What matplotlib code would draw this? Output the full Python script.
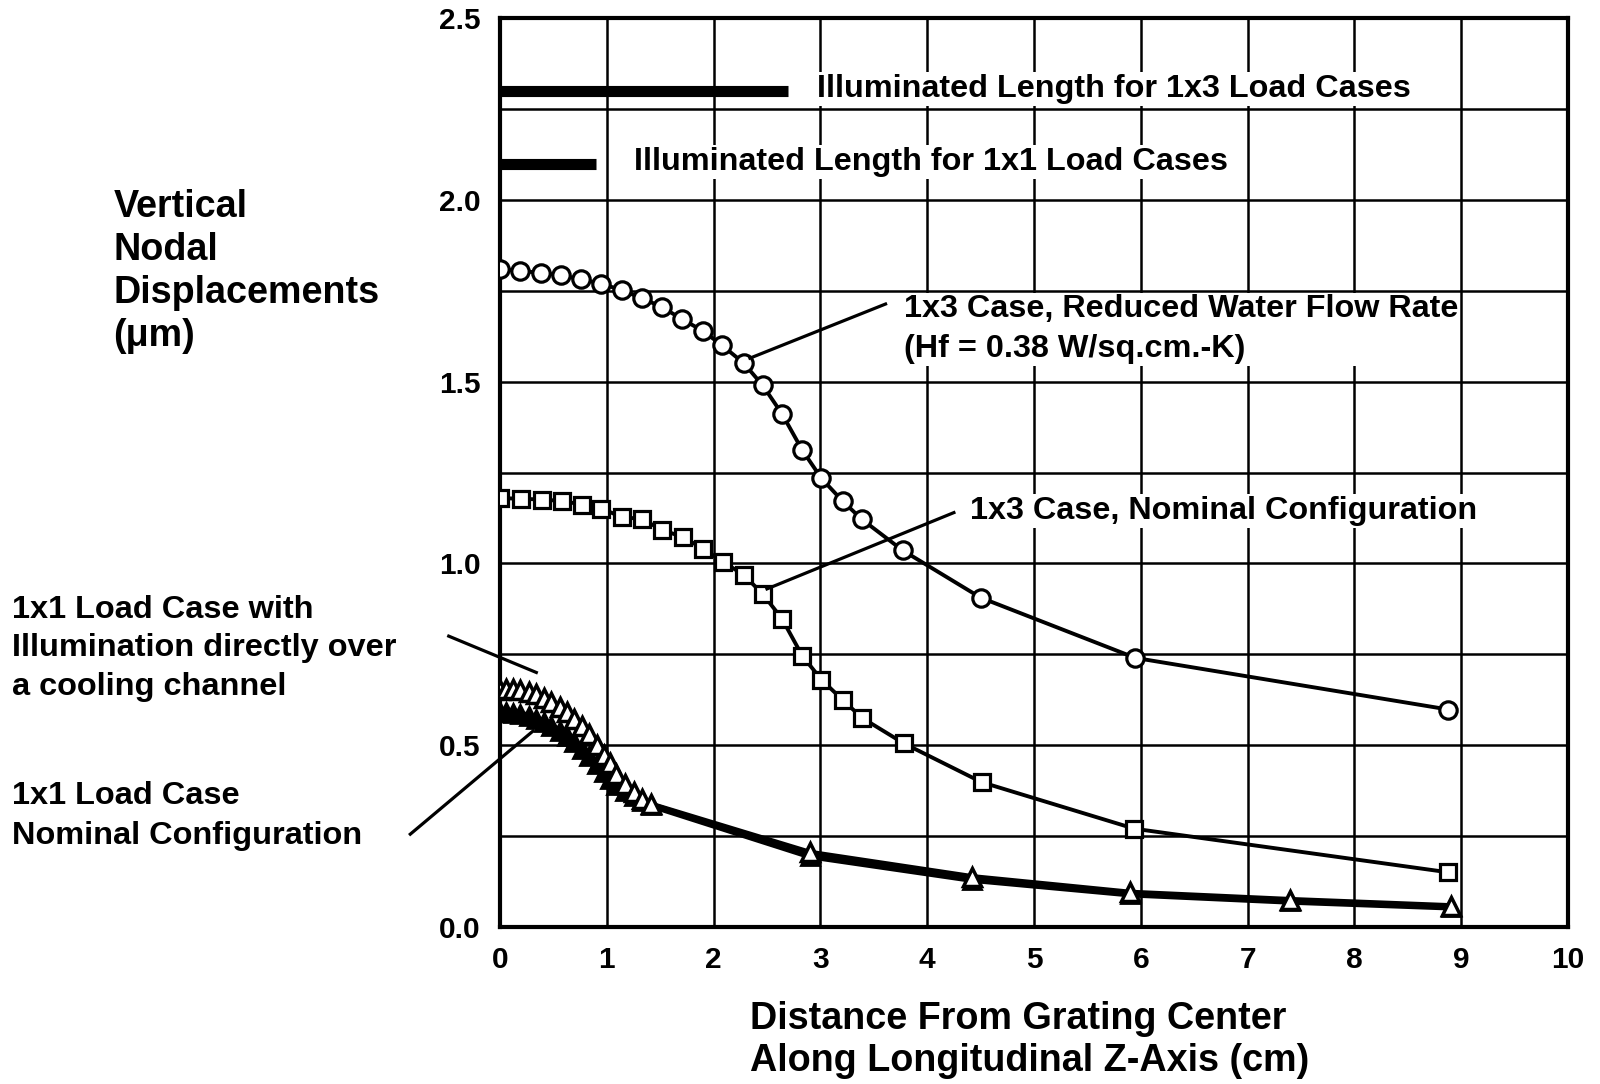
#!/usr/bin/env python3
"""Vertical nodal displacement profiles along the grating Z-axis."""

from __future__ import annotations

import matplotlib

matplotlib.use("Agg")
import matplotlib.pyplot as plt

# --- data -----------------------------------------------------------------
reduced_x = [0.0, 0.19, 0.38, 0.57, 0.76, 0.95, 1.14, 1.33, 1.52, 1.70, 1.90, 2.08,
             2.28, 2.46, 2.64, 2.83, 3.01, 3.21, 3.39, 3.77, 4.50, 5.95, 8.88]
reduced_y = [1.81, 1.805, 1.80, 1.793, 1.782, 1.77, 1.752, 1.73, 1.705, 1.673, 1.64, 1.60,
             1.552, 1.49, 1.412, 1.312, 1.234, 1.171, 1.121, 1.036, 0.906, 0.74, 0.598]

nominal3_x = [0.0, 0.20, 0.39, 0.58, 0.77, 0.95, 1.14, 1.33, 1.52, 1.71, 1.90, 2.09,
              2.28, 2.46, 2.64, 2.83, 3.01, 3.21, 3.39, 3.78, 4.51, 5.94, 8.88]
nominal3_y = [1.18, 1.178, 1.176, 1.172, 1.162, 1.151, 1.128, 1.122, 1.092, 1.073, 1.041, 1.004,
              0.969, 0.916, 0.848, 0.746, 0.68, 0.624, 0.575, 0.505, 0.398, 0.27, 0.15]

load1_x = [0.0, 0.06, 0.12, 0.19, 0.27, 0.34, 0.41, 0.48, 0.56, 0.63, 0.69, 0.77, 0.83,
           0.91, 0.97, 1.03, 1.09, 1.17, 1.25, 1.33, 1.41, 2.90, 4.42, 5.90, 7.40, 8.90]
channel1_y = [0.652, 0.655, 0.655, 0.652, 0.647, 0.64, 0.631, 0.62, 0.606, 0.592, 0.573, 0.552,
              0.53, 0.50, 0.474, 0.45, 0.42, 0.393, 0.372, 0.353, 0.338, 0.205, 0.138, 0.095,
              0.075, 0.058]
nominal1_y = [0.59, 0.59, 0.589, 0.586, 0.58, 0.573, 0.564, 0.553, 0.539, 0.524, 0.508, 0.49,
              0.471, 0.448, 0.427, 0.407, 0.389, 0.373, 0.359, 0.346, 0.335, 0.195, 0.13, 0.09,
              0.07, 0.054]

# illuminated lengths (cm) and the height they are drawn at
illum_1x3 = (2.7, 2.30)
illum_1x1 = (0.9, 2.10)

x_ticks = list(range(0, 11))
y_ticks = [0.0, 0.5, 1.0, 1.5, 2.0, 2.5]
y_tick_labels = ["0.0", "0.5", "1.0", "1.5", "2.0", "2.5"]

FONT = "Liberation Sans"
WHITE_BOX = dict(facecolor="white", edgecolor="none", pad=1.5)


def draw(ax) -> None:
    ax.plot(reduced_x, reduced_y, color="black", lw=2.8, marker="o", ms=12.5,
            mfc="white", mec="black", mew=2.3, zorder=5)
    ax.plot(nominal3_x, nominal3_y, color="black", lw=2.8, marker="s", ms=11.5,
            mfc="white", mec="black", mew=2.3, zorder=5)
    ax.plot(load1_x, nominal1_y, color="black", lw=4.8, marker="^", ms=12.5,
            mfc="black", mec="black", mew=2.0, zorder=5)
    ax.plot(load1_x, channel1_y, color="black", lw=3.8, marker="^", ms=12.5,
            mfc="white", mec="black", mew=2.5, zorder=6)

    # illuminated length bars
    ax.plot([0, illum_1x3[0]], [illum_1x3[1]] * 2, color="black", lw=8,
            solid_capstyle="butt", zorder=4)
    ax.plot([0, illum_1x1[0]], [illum_1x1[1]] * 2, color="black", lw=8,
            solid_capstyle="butt", zorder=4)

    txt = dict(fontsize=23.3, fontweight="bold", family=FONT, va="center", ha="left")
    ax.text(2.97, 2.305, "Illuminated Length for 1x3 Load Cases", bbox=WHITE_BOX, zorder=3, **txt)
    ax.text(1.25, 2.105, "Illuminated Length for 1x1 Load Cases", bbox=WHITE_BOX, zorder=3, **txt)
    ax.text(3.78, 1.645, "1x3 Case, Reduced Water Flow Rate\n(Hf = 0.38 W/sq.cm.-K)",
            bbox=WHITE_BOX, zorder=3, linespacing=1.4, **txt)
    ax.text(4.40, 1.145, "1x3 Case, Nominal Configuration", bbox=WHITE_BOX, zorder=3, **txt)

    leader = dict(color="black", lw=2.3, zorder=7, clip_on=False)
    ax.plot([3.61, 2.34], [1.714, 1.565], **leader)
    ax.plot([4.25, 2.50], [1.14, 0.93], **leader)
    ax.plot([-0.48, 0.34], [0.80, 0.70], **leader)
    ax.plot([-0.84, 0.31], [0.255, 0.539], **leader)

    ax.set_xlim(0, 10)
    ax.set_ylim(0, 2.5)
    ax.set_xticks(x_ticks)
    ax.set_xticklabels([str(t) for t in x_ticks])
    ax.set_yticks(y_ticks)
    ax.set_yticklabels(y_tick_labels)
    ax.set_yticks([0.25, 0.75, 1.25, 1.75, 2.25], minor=True)
    ax.tick_params(which="both", length=0)
    ax.tick_params(axis="x", pad=14)
    ax.tick_params(axis="y", pad=14)
    for lab in ax.get_xticklabels() + ax.get_yticklabels():
        lab.set_fontsize(21.5)
        lab.set_fontweight("bold")
        lab.set_family(FONT)
    ax.grid(True, which="major", axis="x", color="black", lw=1.8)
    ax.grid(True, which="both", axis="y", color="black", lw=1.8)
    ax.set_axisbelow(True)
    for spine in ax.spines.values():
        spine.set_linewidth(3)


def main() -> None:
    fig = plt.figure(figsize=(16, 10.84), dpi=100)
    ax = fig.add_axes([0.3125, 0.145, 0.6675, 0.838])
    draw(ax)

    big = dict(fontsize=27.2, fontweight="bold", family=FONT, ha="left", va="center")
    mid = dict(fontsize=23.4, fontweight="bold", family=FONT, ha="left", va="center")
    fig.text(0.071, 0.7495, "Vertical\nNodal\nDisplacements\n(\u03bcm)", linespacing=1.26, **big)
    fig.text(0.0075, 0.402, "1x1 Load Case with\nIllumination directly over\na cooling channel",
             linespacing=1.36, **mid)
    fig.text(0.0075, 0.247, "1x1 Load Case\nNominal Configuration", linespacing=1.44, **mid)
    fig.text(0.469, 0.0406, "Distance From Grating Center\nAlong Longitudinal Z-Axis (cm)",
             linespacing=1.23, **big)

    fig.savefig("out.png", dpi=100, facecolor="white")
    plt.close(fig)


if __name__ == "__main__":
    main()
